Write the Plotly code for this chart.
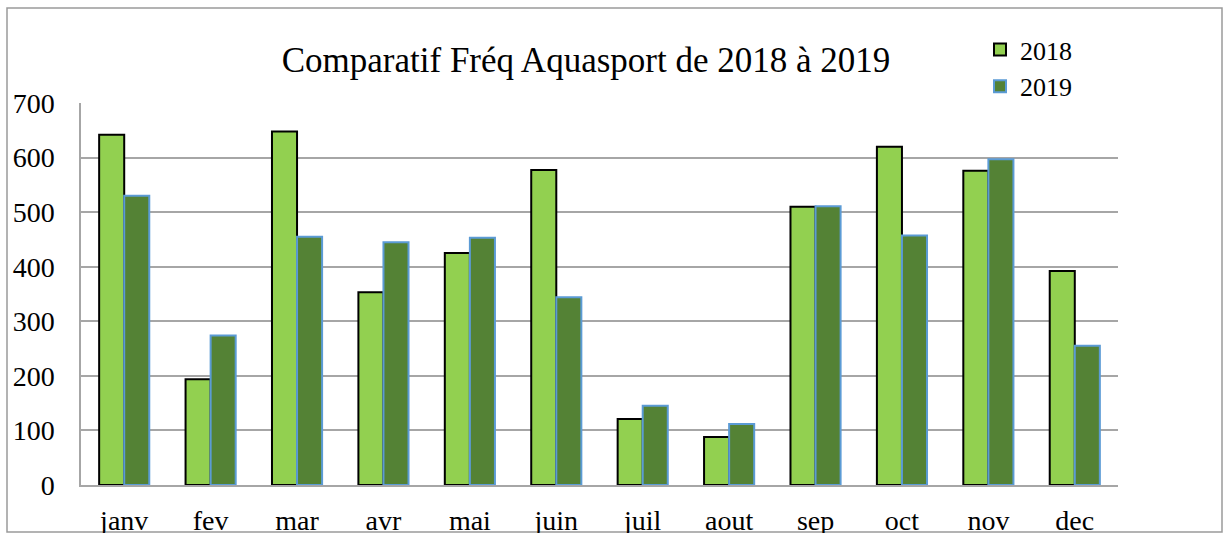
import plotly.graph_objects as go

months = ["janv", "fev", "mar", "avr", "mai", "juin", "juil", "aout", "sep", "oct", "nov", "dec"]
freq_2018 = [642, 194, 648, 353, 425, 577, 121, 88, 510, 620, 576, 392]
freq_2019 = [530, 274, 455, 445, 453, 344, 145, 112, 511, 457, 597, 255]
y_ticks = [0, 100, 200, 300, 400, 500, 600, 700]

W, H = 1225, 535
ML, MR, MT, MB = 81, 107, 103, 50
PW, PH = W - ML - MR, H - MT - MB
FONT = "Liberation Serif, Times New Roman, serif"


def px_x(x):
    return (x - ML) / PW


def px_y(y):
    return (H - MB - y) / PH


fig = go.Figure()
fig.add_trace(go.Bar(
    x=months, y=freq_2018, name="2018",
    marker=dict(color="#92D050", line=dict(color="#000000", width=2)),
))
fig.add_trace(go.Bar(
    x=months, y=freq_2019, name="2019",
    marker=dict(color="#548235", line=dict(color="#5B9BD5", width=2)),
))

fig.update_layout(
    width=W, height=H,
    margin=dict(l=ML, r=MR, t=MT, b=MB, autoexpand=False),
    paper_bgcolor="white", plot_bgcolor="white",
    barmode="group", bargap=0.42, bargroupgap=0,
    font=dict(family=FONT, size=28, color="#000000"),
    title=dict(
        text="Comparatif Fréq Aquasport de 2018 à 2019",
        font=dict(family=FONT, size=35, color="#000000"),
        x=586 / W, xanchor="center", xref="container",
        y=1 - 60 / H, yanchor="middle", yref="container",
    ),
    legend=dict(
        x=980 / W, xanchor="left", xref="container",
        y=1 - 26 / H, yanchor="top", yref="container",
        font=dict(family=FONT, size=26, color="#000000"),
        itemwidth=30, bgcolor="rgba(0,0,0,0)",
    ),
    showlegend=True,
    shapes=[
        # chart frame
        dict(type="rect", xref="paper", yref="paper",
             x0=px_x(7), x1=px_x(1222), y0=px_y(532), y1=px_y(8),
             line=dict(color="#9A9A9A", width=1.5), layer="below"),
        # frame clips the category labels at its lower edge
        dict(type="rect", xref="paper", yref="paper",
             x0=px_x(0), x1=px_x(W), y0=px_y(H + 10), y1=px_y(533),
             fillcolor="white", line=dict(width=0), layer="above"),
    ],
)

fig.update_yaxes(
    range=[0, 700], tickvals=y_ticks, automargin=False,
    showgrid=True, gridcolor="#A6A6A6", gridwidth=1.5,
    zeroline=False,
    showline=True, linecolor="#A6A6A6", linewidth=1.5,
    ticks="", ticklabelstandoff=19,
    tickfont=dict(family=FONT, size=28),
)
fig.update_xaxes(
    automargin=False,
    showgrid=False, zeroline=False,
    showline=True, linecolor="#A6A6A6", linewidth=1.5,
    ticks="", ticklabelstandoff=10,
    tickfont=dict(family=FONT, size=28),
)

fig.write_html("out.html")
